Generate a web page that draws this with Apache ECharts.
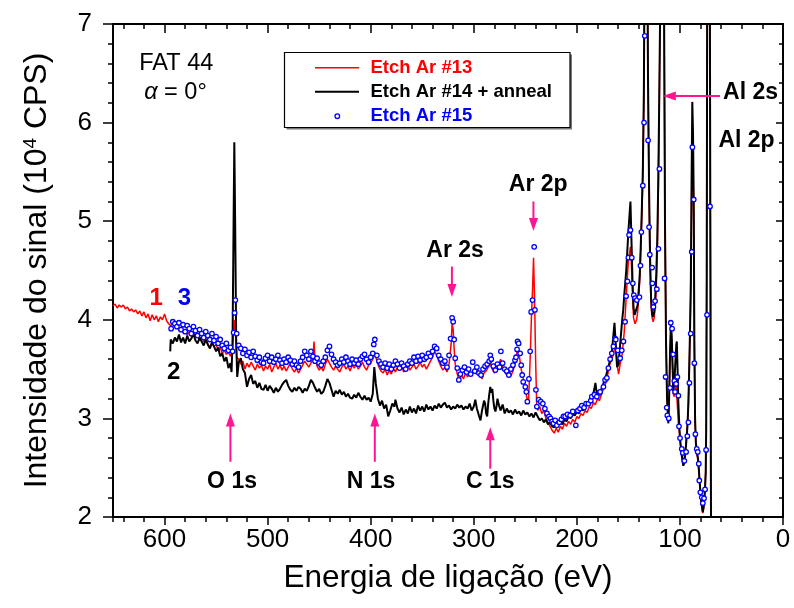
<!DOCTYPE html>
<html><head><meta charset="utf-8">
<script src="https://cdn.jsdelivr.net/npm/echarts/dist/echarts.min.js"></script>
<style>html,body{margin:0;padding:0;background:#fff}#c{width:794px;height:608px}</style>
</head><body><div id="c"></div>
<script>
// ---------------- data ----------------
const seriesNames = ['Etch Ar #13', 'Etch Ar #14 + anneal', 'Etch Ar #15'];
const xTickValues = [0, 100, 200, 300, 400, 500, 600];
const yTickValues = [2, 3, 4, 5, 6, 7];

const red13 = [
[650,4.14],[648,4.16],[646,4.12],[644,4.15],[642,4.13],[640,4.15],[638,4.11],[636,4.13],[634,4.09],[632,4.11],[630,4.08],[628,4.10],[626,4.06],[624,4.09],[622,4.04],[620,4.08],[618,4.02],[616,4.06],[614,3.99],[612,4.05],[610,4.00],[608,4.04],[606,3.98],[604,4.03],[602,4.00],[600,4.06],[598,3.99],[596,3.96],[594,3.94],[592,3.96],[590,3.92],[588,3.94],[586,3.89],[584,3.92],[582,3.87],[580,3.90],[578,3.85],[576,3.88],[574,3.83],[572,3.87],[570,3.82],[568,3.85],[566,3.79],[564,3.83],[562,3.78],[560,3.81],[558,3.75],[556,3.71],[554,3.77],[552,3.73],[550,3.75],[548,3.69],[546,3.72],[544,3.66],[542,3.69],[540,3.65],[538,3.67],[536,3.63],[534,3.70],[533,3.86],[532,4.00],[531,3.84],[530,3.62],[528,3.60],[526,3.55],[524,3.58],[522,3.50],[520,3.56],[518,3.52],[516,3.57],[514,3.53],[512,3.49],[510,3.55],[508,3.51],[506,3.54],[504,3.48],[502,3.53],[500,3.50],[498,3.55],[496,3.47],[494,3.52],[492,3.56],[490,3.50],[488,3.54],[486,3.49],[484,3.53],[482,3.48],[480,3.52],[478,3.56],[476,3.50],[474,3.47],[472,3.51],[470,3.46],[468,3.50],[466,3.54],[464,3.58],[462,3.55],[460,3.52],[458,3.56],[456,3.62],[455,3.78],[454,3.60],[452,3.53],[450,3.49],[448,3.52],[446,3.48],[444,3.55],[442,3.60],[440,3.56],[438,3.52],[436,3.49],[434,3.53],[432,3.50],[430,3.47],[428,3.52],[426,3.55],[424,3.50],[422,3.53],[420,3.48],[418,3.54],[416,3.51],[414,3.55],[412,3.50],[410,3.53],[408,3.57],[406,3.52],[404,3.49],[402,3.54],[400,3.56],[398,3.60],[396,3.67],[394,3.58],[392,3.52],[390,3.48],[388,3.46],[386,3.50],[384,3.44],[382,3.49],[380,3.45],[378,3.51],[376,3.47],[374,3.52],[372,3.49],[370,3.53],[368,3.47],[366,3.50],[364,3.54],[362,3.49],[360,3.52],[358,3.55],[356,3.50],[354,3.53],[352,3.57],[350,3.52],[348,3.55],[346,3.50],[344,3.54],[342,3.58],[340,3.62],[338,3.68],[336,3.64],[334,3.58],[332,3.53],[330,3.49],[328,3.52],[326,3.47],[324,3.55],[322,3.75],[321,3.97],[320,3.90],[319,3.70],[318,3.55],[316,3.45],[314,3.38],[312,3.44],[310,3.40],[308,3.46],[306,3.42],[304,3.47],[302,3.43],[300,3.50],[298,3.45],[296,3.49],[294,3.44],[292,3.40],[290,3.46],[288,3.48],[286,3.52],[284,3.56],[282,3.50],[280,3.46],[278,3.50],[276,3.54],[274,3.60],[272,3.52],[270,3.47],[268,3.44],[266,3.49],[264,3.43],[262,3.48],[260,3.55],[258,3.68],[256,3.65],[254,3.50],[252,3.40],[250,3.30],[248,3.18],[247,3.15],[246,3.40],[245,3.70],[244,4.05],[243,4.30],[242,4.63],[241,4.20],[240,3.60],[239,3.15],[238,3.08],[236,3.12],[234,3.05],[232,3.08],[230,3.00],[228,2.96],[226,2.92],[224,2.88],[222,2.85],[220,2.90],[218,2.86],[216,2.92],[214,2.89],[212,2.95],[210,2.92],[208,2.97],[206,2.94],[204,2.99],[202,2.96],[200,3.02],[198,3.00],[196,3.05],[194,3.03],[192,3.08],[190,3.06],[188,3.12],[186,3.10],[184,3.16],[182,3.14],[180,3.20],[178,3.18],[176,3.25],[174,3.30],[172,3.36],[170,3.45],[168,3.55],[166,3.60],[164,3.68],[162.5,3.75],[161,3.55],[159.5,3.45],[158,3.55],[156,3.65],[154,3.88],[152,4.25],[150,4.60],[148,4.74],[147,4.55],[146,4.25],[145,4.02],[143.5,3.96],[142,4.00],[141,4.08],[140,4.22],[139,4.40],[138,4.70],[137,5.05],[136,5.45],[135,6.2],[134.5,7.1],[133.5,9.5],[132,8.5],[131,6.5],[130,5.3],[129,4.55],[128,4.15],[127,4.02],[126,3.98],[125,4.02],[124,4.12],[123,4.30],[122,4.65],[121,5.30],[120,6.2],[119,7.3],[118,9.5],[116.5,9.5],[115.8,8.0],[115.3,7.0],[114.5,5.0],[113.5,3.8],[112.5,3.2],[111.3,2.97],[110.5,3.2],[109.5,3.65],[108.8,3.88],[108,3.78],[107,3.45],[106.5,3.25],[105.5,3.22],[104.5,3.30],[103.5,3.35],[103,3.22],[102.3,3.10],[101.5,2.95],[100.5,2.85],[99.5,2.74],[98.5,2.66],[97.5,2.59],[96.7,2.55],[95.7,2.57],[94.7,2.67],[93.7,2.80],[92.7,2.94],[91.8,3.15],[91,3.45],[90.2,3.85],[89.4,4.3],[88.7,5.2],[88,5.85],[87.3,5.6],[86.6,5.0],[86,3.7],[85.3,2.95],[84.5,2.72],[83.5,2.63],[82.5,2.57],[81.7,2.46],[81,2.35],[80.2,2.24],[79.3,2.14],[78.5,2.08],[77.8,2.04],[77,2.09],[76.3,2.17],[75.6,2.29],[75,2.45],[74.5,2.85],[74,4.4],[73.5,7.4],[72.5,9.5],[71.5,9.5],[71,7.4],[70.5,4.9],[70,2.4],[69.7,1.5]
];

const black14 = [
[594.5,3.68],[594,3.80],[592,3.76],[590,3.82],[588,3.78],[586,3.85],[584,3.77],[582,3.82],[580,3.76],[578,3.84],[576,3.78],[574,3.81],[572,3.86],[570,3.79],[568,3.76],[566,3.82],[564,3.78],[562,3.74],[560,3.80],[558,3.75],[556,3.71],[554,3.77],[552,3.73],[550,3.68],[548,3.72],[546,3.63],[544,3.66],[542,3.58],[540,3.62],[538,3.51],[536,3.56],[535,3.47],[534,3.80],[533,5.00],[532.3,5.80],[531.5,5.00],[530.5,3.80],[529.5,3.42],[528,3.57],[526,3.61],[524,3.50],[522,3.46],[520,3.32],[518,3.40],[516,3.44],[514,3.35],[512,3.38],[510,3.31],[508,3.36],[506,3.30],[504,3.29],[502,3.34],[500,3.28],[498,3.33],[496,3.30],[494,3.26],[492,3.31],[490,3.27],[488,3.30],[486,3.34],[484,3.37],[482,3.39],[480,3.33],[478,3.29],[476,3.27],[474,3.31],[472,3.28],[470,3.32],[468,3.30],[466,3.26],[464,3.30],[462,3.28],[460,3.33],[458,3.39],[456,3.36],[454,3.31],[452,3.27],[450,3.30],[448,3.25],[446,3.27],[444,3.33],[442,3.40],[440,3.36],[438,3.29],[436,3.22],[434,3.28],[432,3.25],[430,3.29],[428,3.24],[426,3.27],[424,3.22],[422,3.25],[420,3.21],[418,3.20],[416,3.24],[414,3.21],[412,3.26],[410,3.22],[408,3.19],[406,3.23],[404,3.19],[402,3.21],[400,3.17],[398,3.25],[396.5,3.52],[395,3.35],[393,3.20],[391,3.13],[389,3.18],[387,3.10],[385,3.14],[383,3.02],[381,3.08],[379,3.15],[377,3.12],[376,3.19],[374,3.10],[372,3.06],[370,3.11],[368,3.04],[366,3.09],[364,3.05],[362,3.12],[360,3.06],[358,3.10],[356,3.05],[354,3.13],[352,3.08],[350,3.12],[348,3.07],[346,3.14],[344,3.09],[342,3.12],[340,3.08],[338,3.13],[336,3.10],[334,3.15],[332,3.11],[330,3.14],[328,3.16],[326,3.11],[324,3.13],[322,3.09],[320,3.12],[318,3.10],[316,3.14],[314,3.11],[312,3.13],[310,3.09],[308,3.12],[306,3.10],[304,3.15],[302,3.08],[300,3.12],[298.5,3.19],[297,3.10],[295,3.03],[293.5,2.98],[292,3.08],[290,3.18],[289,3.15],[288,3.05],[287,3.02],[286,3.15],[285,3.24],[284,3.32],[283,3.26],[282,3.30],[281,3.18],[280,3.10],[279,3.07],[278,3.12],[277,3.20],[276,3.15],[274,3.08],[272,3.14],[270,3.05],[268,3.10],[266,3.06],[264,3.08],[262,3.04],[260,3.09],[258,3.05],[256,3.07],[254,3.03],[252,3.08],[250,3.04],[248,3.06],[246,3.02],[244,3.05],[242,3.01],[240,3.06],[238,3.02],[236,2.98],[234,3.00],[232,2.96],[230,2.99],[228,2.94],[226,2.96],[224,2.92],[222,2.91],[220,2.95],[218,2.93],[216,2.96],[214,2.94],[212,2.99],[210,2.97],[208,3.02],[206,3.00],[204,3.04],[202,3.03],[200,3.07],[198,3.05],[196,3.10],[194,3.08],[192,3.12],[190,3.14],[188,3.18],[186,3.20],[184,3.25],[183,3.30],[182,3.36],[181,3.28],[180,3.24],[178,3.26],[176,3.30],[174,3.36],[172,3.42],[170,3.50],[168,3.58],[166,3.68],[164.5,3.85],[163.5,3.97],[162.5,3.80],[161,3.52],[159.5,3.55],[158,3.75],[156,4.00],[155,4.10],[154,4.25],[152,4.51],[150,4.90],[148,5.20],[147,4.80],[146,4.40],[145,4.12],[144,4.05],[142.5,4.04],[141,4.15],[140,4.30],[139,4.45],[138,4.75],[137,5.10],[136,5.50],[135,6.30],[134.5,7.2],[133.5,9.5],[132,8.5],[131,6.5],[130,5.4],[129,4.65],[128,4.22],[127,4.06],[126,4.03],[125,4.08],[124,4.22],[123,4.45],[122,4.80],[121,5.40],[120,6.3],[119,7.3],[118,9.5],[116.5,9.5],[115.8,8.0],[115.3,7.0],[114.5,5.0],[113.5,3.8],[112.5,3.2],[111.2,2.95],[110.5,3.2],[109.5,3.7],[108.8,3.95],[108,3.85],[107,3.50],[106.5,3.28],[105.5,3.35],[104.5,3.55],[103.5,3.75],[103,3.78],[102.3,3.50],[101.5,3.15],[100.5,2.90],[99.5,2.75],[98.5,2.65],[97.5,2.57],[96.7,2.52],[95.7,2.55],[94.7,2.65],[93.7,2.78],[92.7,2.92],[91.8,3.15],[91,3.5],[90.2,3.9],[89.4,4.4],[88.7,5.4],[88,6.21],[87.3,5.9],[86.6,5.2],[86,3.8],[85.3,3.0],[84.5,2.75],[83.5,2.66],[82.5,2.60],[81.7,2.50],[81,2.38],[80.2,2.27],[79.3,2.17],[78.5,2.10],[77.8,2.05],[77,2.10],[76.3,2.18],[75.6,2.30],[75,2.45],[74.5,2.9],[74,4.5],[73.5,7.5],[72.5,9.5],[71.5,9.5],[71,7.5],[70.5,5.0],[70,2.5],[69.7,1.5]
];

const blue15 = [
[593.6,3.91],[592,3.98],[590,3.96],[588,3.93],[586,3.97],[584,3.90],[582,3.95],[580,3.88],[578,3.94],[576,3.91],[574,3.86],[572,3.93],[570,3.89],[568,3.84],[566,3.90],[564,3.86],[562,3.82],[560,3.88],[558,3.84],[556,3.80],[554,3.86],[552,3.79],[550,3.83],[548,3.76],[546,3.80],[544,3.74],[542,3.71],[540,3.76],[538,3.69],[536,3.72],[534,3.68],[533,3.87],[532,4.07],[531.3,4.20],[530,3.86],[528,3.74],[526,3.71],[524,3.66],[522,3.70],[520,3.64],[518,3.67],[516,3.62],[514,3.68],[512,3.63],[510,3.59],[508,3.62],[506,3.57],[504,3.56],[502,3.61],[500,3.64],[498,3.58],[496,3.62],[494,3.57],[492,3.60],[490,3.64],[488,3.59],[486,3.56],[484,3.60],[482,3.57],[480,3.62],[478,3.59],[476,3.55],[474,3.58],[472,3.54],[470,3.52],[468,3.58],[466,3.62],[464,3.68],[462,3.64],[460,3.60],[458,3.68],[456,3.63],[454,3.58],[452,3.61],[450,3.56],[448,3.54],[446,3.58],[444,3.62],[442,3.69],[440,3.73],[438,3.65],[436,3.60],[434,3.57],[432,3.54],[430,3.56],[428,3.60],[426,3.57],[424,3.62],[422,3.58],[420,3.55],[418,3.60],[416,3.56],[414,3.59],[412,3.55],[410,3.60],[408,3.63],[406,3.65],[404,3.60],[402,3.57],[400,3.62],[398,3.66],[397,3.75],[396,3.80],[394,3.64],[392,3.58],[390,3.55],[388,3.52],[386,3.56],[384,3.51],[382,3.55],[380,3.50],[378,3.54],[376,3.58],[374,3.55],[372,3.51],[370,3.56],[368,3.53],[366,3.50],[364,3.55],[362,3.58],[360,3.56],[358,3.62],[356,3.58],[354,3.63],[352,3.59],[350,3.64],[348,3.60],[346,3.62],[344,3.66],[342,3.63],[340,3.68],[338,3.73],[336,3.71],[334,3.64],[332,3.60],[330,3.56],[328,3.58],[326,3.52],[324,3.64],[322.5,3.81],[321,4.02],[320,3.98],[319,3.80],[318,3.61],[316,3.51],[314.5,3.39],[313,3.45],[311,3.49],[309,3.52],[307,3.47],[305,3.50],[303,3.45],[301,3.57],[299,3.48],[297,3.52],[295,3.46],[293,3.44],[291,3.50],[289,3.53],[287,3.55],[285,3.58],[284,3.64],[283,3.60],[281,3.53],[279,3.49],[277,3.55],[275,3.52],[273.7,3.68],[272,3.56],[270,3.50],[268,3.48],[266,3.44],[264,3.50],[262,3.54],[260,3.59],[259,3.62],[258,3.70],[257.5,3.78],[256.5,3.76],[255,3.66],[254,3.54],[253,3.44],[252,3.37],[250,3.32],[249,3.27],[248,3.17],[246.5,3.40],[245.3,3.68],[244.3,4.08],[243,4.20],[241.4,4.74],[240.7,4.10],[239.7,3.29],[238.8,3.12],[237,3.19],[235,3.17],[233,3.15],[231,3.10],[229,3.05],[227,3.02],[225.5,3.00],[224,2.97],[222.7,2.95],[221,2.98],[219.4,2.93],[217,2.96],[215,2.99],[213,3.02],[211.3,3.02],[209,3.04],[206.5,3.03],[204,3.07],[201,2.93],[199,3.08],[197,3.10],[195.2,3.13],[193,3.11],[191,3.15],[188.8,3.15],[186.5,3.18],[185.5,3.22],[183,3.24],[180.6,3.22],[178,3.26],[177.4,3.27],[174.2,3.32],[172.6,3.39],[170.9,3.41],[169.4,3.51],[167.7,3.60],[166.1,3.66],[164.5,3.73],[162.9,3.81],[162.2,3.80],[160.3,3.69],[158,3.61],[156.4,3.69],[154.8,3.78],[153.2,3.98],[152.2,4.24],[150.9,4.39],[150,4.63],[149.3,4.86],[148,4.91],[146.7,4.63],[145.7,4.37],[144.7,4.25],[143.5,4.22],[141.8,4.20],[139.3,4.23],[138.3,4.55],[137.4,4.89],[136,5.36],[134.8,6.00],[134.1,6.88],[130.9,5.82],[129.9,4.94],[129.2,4.66],[127,4.53],[126.7,4.37],[125.7,4.13],[124.1,4.19],[122.4,4.31],[120.9,4.72],[119.9,5.53],[114.9,4.42],[113.9,3.42],[112.8,3.11],[112.2,3.03],[110.8,3.00],[109.6,3.31],[108.9,3.97],[107.6,3.91],[106.6,3.65],[105.4,3.38],[104.7,3.27],[103.7,3.35],[102.5,3.42],[101.5,3.23],[100.9,2.92],[99.9,2.80],[98.2,2.69],[97.2,2.65],[95.7,2.57],[94,2.66],[92.8,2.82],[91.8,2.96],[90.8,3.36],[89.5,3.86],[88.5,4.69],[87.9,5.75],[86.6,5.22],[86,3.56],[85,2.84],[83.7,2.69],[82.7,2.66],[81.7,2.54],[81.2,2.37],[80.2,2.25],[78.8,2.20],[77.8,2.14],[76.6,2.19],[75.6,2.28],[74.6,2.68],[73.7,4.05],[70.8,5.15],[64.3,1.99]
];

// annotation texts (positions in data coordinates)
const peakNotes = [
  {text: 'O 1s', at: [534.5, 2.36]},
  {text: 'N 1s', at: [399.6, 2.36]},
  {text: 'C 1s', at: [284.0, 2.36]},
  {text: 'Ar 2s', at: [318.1, 4.70]},
  {text: 'Ar 2p', at: [237.5, 5.37]},
  {text: 'Al 2s', at: [31.5, 6.30]},
  {text: 'Al 2p', at: [35.4, 5.82]}
];
const arrowNotes = [
  {from: [536.1, 2.56], to: [536.1, 3.05]},
  {from: [396.0, 2.56], to: [396.0, 3.05]},
  {from: [284.0, 2.49], to: [284.0, 2.91]},
  {from: [321.2, 4.54], to: [321.2, 4.23]},
  {from: [242.1, 5.20], to: [242.1, 4.90]},
  {from: [61.1, 6.27], to: [116.6, 6.27]}
];

// ---------------- chart ----------------
const FONT = '"Liberation Sans", Arial, Helvetica, sans-serif';
const PINK = '#ff1493';
const RED = '#ff0000', BLUE = '#0000ff', BLACK = '#000000';
const chart = echarts.init(document.getElementById('c'), null, {renderer: 'canvas'});

function xAxisDef(position, interval, tickLen, inside, withLine, withLabels) {
  return {
    type: 'value', position: position, min: 0, max: 650, interval: interval, inverse: true,
    axisLine: {show: withLine, onZero: false, lineStyle: {color: BLACK, width: 2}},
    axisTick: {show: true, inside: inside, length: tickLen, lineStyle: {color: BLACK, width: 1.5}},
    axisLabel: withLabels ? {
      show: true, showMaxLabel: false, margin: 10, color: BLACK, fontSize: 26, fontFamily: FONT,
      formatter: v => (xTickValues.indexOf(v) >= 0 ? String(v) : '')
    } : {show: false},
    splitLine: {show: false}
  };
}
function yAxisDef(position, tickLen, minorLen, inside, withLabels) {
  return {
    type: 'value', position: position, min: 2, max: 7, interval: 1,
    axisLine: {show: true, onZero: false, lineStyle: {color: BLACK, width: 2}},
    axisTick: {show: true, inside: inside, length: tickLen, lineStyle: {color: BLACK, width: 1.5}},
    minorTick: {show: true, splitNumber: 5, length: minorLen, lineStyle: {color: BLACK, width: 1.5}},
    axisLabel: withLabels ? {
      show: true, margin: 21, color: BLACK, fontSize: 26, fontFamily: FONT,
      formatter: v => (yTickValues.indexOf(v) >= 0 ? String(v) : '')
    } : {show: false},
    splitLine: {show: false}, minorSplitLine: {show: false}
  };
}

const xMain = xAxisDef('bottom', 100, 8, false, true, true);
xMain.name = 'Energia de ligação (eV)';
xMain.nameLocation = 'middle';
xMain.nameGap = 45;
xMain.nameTextStyle = {fontSize: 31.5, fontFamily: FONT, color: BLACK};

const yMain = yAxisDef('left', 10, 5, false, true);
yMain.name = '{a|Intensidade do sinal (10}{s|4}{a| CPS)}';
yMain.nameLocation = 'middle';
yMain.nameGap = 60;
yMain.nameTextStyle = {
  rich: {
    a: {fontSize: 32, fontFamily: FONT, color: BLACK, lineHeight: 32},
    s: {fontSize: 19, fontFamily: FONT, color: BLACK, verticalAlign: 'top', lineHeight: 32, padding: [0, 0, 14, 0]}
  }
};

chart.setOption({
  animation: false,
  backgroundColor: '#fff',
  grid: {left: 113, right: 11, top: 24, bottom: 91, containLabel: false, outerBoundsMode: 'none', show: false},
  xAxis: [
    xMain,
    xAxisDef('bottom', 20, 5, false, false, false),
    xAxisDef('top', 100, 9, true, true, false),
    xAxisDef('top', 20, 5, true, false, false)
  ],
  yAxis: [
    yMain,
    yAxisDef('right', 7, 4, true, false)
  ],
  series: [
    {name: seriesNames[0], type: 'line', data: red13, xAxisIndex: 0, yAxisIndex: 0, symbol: 'none',
     lineStyle: {color: RED, width: 1.5}, itemStyle: {color: RED}, z: 2, clip: true},
    {name: seriesNames[1], type: 'line', data: black14, xAxisIndex: 0, yAxisIndex: 0, symbol: 'none',
     lineStyle: {color: BLACK, width: 2}, itemStyle: {color: BLACK}, z: 3, clip: true},
    {name: seriesNames[2], type: 'scatter', data: blue15, xAxisIndex: 0, yAxisIndex: 0, symbol: 'circle', symbolSize: 4.5,
     itemStyle: {color: '#ffffff', borderColor: BLUE, borderWidth: 1.3, opacity: 1}, z: 4, clip: true}
  ]
});

// ---------------- annotations ----------------
function toPx(p) { return chart.convertToPixel({xAxisIndex: 0, yAxisIndex: 0}, p); }
const g = [];
function arrow(from, to) {
  const a = toPx(from), b = toPx(to);
  const dx = b[0] - a[0], dy = b[1] - a[1], L = Math.hypot(dx, dy);
  const ux = dx / L, uy = dy / L, hl = 13, hw = 4.5;
  const bx = b[0] - ux * hl, by = b[1] - uy * hl;
  g.push({type: 'line', z: 50, shape: {x1: a[0], y1: a[1], x2: bx + ux, y2: by + uy}, style: {stroke: PINK, lineWidth: 2}});
  g.push({type: 'polygon', z: 50, shape: {points: [[b[0], b[1]], [bx - uy * hw, by + ux * hw], [bx + uy * hw, by - ux * hw]]},
          style: {fill: PINK}});
}
arrowNotes.forEach(a => arrow(a.from, a.to));
peakNotes.forEach(n => {
  const p = toPx(n.at);
  g.push({type: 'text', z: 50, x: p[0], y: p[1], style: {text: n.text, fill: BLACK, fontSize: 23, fontWeight: 'bold',
          fontFamily: FONT, align: 'center', verticalAlign: 'middle'}});
});
function txt(at, text, color, size, weight) {
  const p = toPx(at);
  g.push({type: 'text', z: 50, x: p[0], y: p[1], style: {text: text, fill: color, fontSize: size, fontWeight: weight,
          fontFamily: FONT, align: 'center', verticalAlign: 'middle'}});
}
txt([588.6, 6.60], 'FAT 44', BLACK, 23.5, 'normal');
(function () {
  const p = toPx([589.4, 6.31]);
  g.push({type: 'text', z: 50, x: p[0], y: p[1], style: {
    text: '{i|α} = 0°', fill: BLACK, fontSize: 23.5, fontFamily: FONT, align: 'center', verticalAlign: 'middle',
    rich: {i: {fontStyle: 'italic', fontSize: 23.5, fontFamily: FONT, fill: BLACK}}
  }});
})();
txt([608.0, 4.22], '1', RED, 24, 'bold');
txt([580.7, 4.22], '3', BLUE, 24, 'bold');
txt([591.1, 3.47], '2', BLACK, 24, 'bold');

// legend box (chrome)
g.push({type: 'rect', z: 40, shape: {x: 286.5, y: 54.5, width: 285.5, height: 75}, style: {fill: '#777'}});
g.push({type: 'rect', z: 41, shape: {x: 284.5, y: 52.5, width: 285.5, height: 75}, style: {fill: '#fff', stroke: BLACK, lineWidth: 1.2}});
const legRows = [
  {name: seriesNames[0], color: RED, y: 67.7, kind: 'line', w: 1.5},
  {name: seriesNames[1], color: BLACK, y: 91.7, kind: 'line', w: 2},
  {name: seriesNames[2], color: BLUE, y: 116.2, kind: 'dot'}
];
legRows.forEach(r => {
  if (r.kind === 'line') {
    g.push({type: 'line', z: 42, shape: {x1: 315, y1: r.y, x2: 359, y2: r.y}, style: {stroke: r.color, lineWidth: r.w}});
  } else {
    g.push({type: 'circle', z: 42, shape: {cx: 337.3, cy: r.y, r: 2.3}, style: {fill: '#fff', stroke: r.color, lineWidth: 1.3}});
  }
  g.push({type: 'text', z: 42, x: 370.5, y: r.y, style: {text: r.name, fill: r.color, fontSize: 18.5, fontWeight: 'bold',
          fontFamily: FONT, align: 'left', verticalAlign: 'middle'}});
});
chart.setOption({graphic: {elements: g}});
</script>
</body></html>
